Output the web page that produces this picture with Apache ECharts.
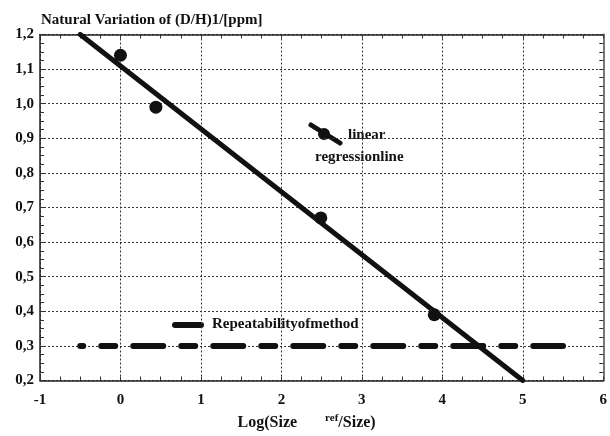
<!DOCTYPE html>
<html>
<head>
<meta charset="utf-8">
<script src="https://cdn.jsdelivr.net/npm/echarts@6/dist/echarts.min.js"></script>
<style>
html, body { margin: 0; padding: 0; background: #fff; }
#main { width: 610px; height: 436px; }
</style>
</head>
<body>
<div id="main"></div>
<script>
// measured points
const pointX = [0, 0.44, 2.49, 3.9];
const pointY = [1.14, 0.99, 0.67, 0.39];
// regression line ends
const regX = [-0.5, 5];
const regY = [1.2, 0.2];
// repeatability of method
const repX = [-0.5, 5.5];
const repY = [0.3, 0.3];

const fontFam = '"Liberation Serif", serif';

function pairs(xs, ys) {
    return xs.map((x, i) => [x, ys[i]]);
}

let myChart = echarts.init(document.getElementById('main'));

const gridLine = { show: true, lineStyle: { color: '#333', width: 1, type: [2, 2] } };
const frameLine = { show: true, onZero: false, lineStyle: { color: '#222', width: 1.5 } };
const minor = { show: true, splitNumber: 4, length: 4, lineStyle: { color: '#333', width: 1 } };
const majTick = { show: true, inside: true, length: 4, lineStyle: { color: '#333' } };

let option = {
    backgroundColor: '#fff',
    animation: false,
    textStyle: { fontFamily: fontFam },
    title: {
        text: 'Natural Variation of (D/H)1/[ppm]',
        left: 36,
        top: 8,
        textStyle: { fontFamily: fontFam, fontSize: 15, fontWeight: 'bold', color: '#111' }
    },
    grid: { left: 40, right: 4, top: 34.5, bottom: 51.5 },
    xAxis: [{
        type: 'value',
        min: -1,
        max: 6,
        interval: 1,
        axisLine: frameLine,
        axisTick: majTick,
        minorTick: Object.assign({}, minor),
        splitLine: gridLine,
        axisLabel: { fontFamily: fontFam, fontSize: 15, fontWeight: 'bold', color: '#111', margin: 12 },
        name: '{a|Log(Size}{gap|}{sup|ref}{a|/Size)}',
        nameLocation: 'middle',
        nameGap: 32,
        nameTextStyle: {
            padding: [0, 30, 0, 0],
            rich: {
                a: { fontFamily: fontFam, fontSize: 16, fontWeight: 'bold', color: '#111' },
                gap: { width: 28 },
                sup: { fontFamily: fontFam, fontSize: 11, fontWeight: 'bold', color: '#111', padding: [0, 0, 10, 0] }
            }
        }
    }, {
        type: 'value',
        position: 'top',
        min: -1,
        max: 6,
        interval: 1,
        axisLine: frameLine,
        axisTick: majTick,
        minorTick: Object.assign({}, minor),
        splitLine: { show: false },
        axisLabel: { show: false }
    }],
    yAxis: [{
        type: 'value',
        min: 0.2,
        max: 1.2,
        interval: 0.1,
        axisLine: frameLine,
        axisTick: majTick,
        minorTick: Object.assign({}, minor),
        splitLine: gridLine,
        axisLabel: {
            fontFamily: fontFam, fontSize: 15, fontWeight: 'bold', color: '#111', margin: 6,
            formatter: (v) => v.toFixed(1).replace('.', ',')
        }
    }, {
        type: 'value',
        position: 'right',
        min: 0.2,
        max: 1.2,
        interval: 0.1,
        axisLine: { show: true, onZero: false, lineStyle: { color: '#777', width: 2 } },
        axisTick: majTick,
        minorTick: Object.assign({}, minor),
        splitLine: { show: false },
        axisLabel: { show: false }
    }],
    graphic: [
        // legend: linear regression line
        { type: 'line', shape: { x1: 311, y1: 125, x2: 340, y2: 143 }, style: { stroke: '#111', lineWidth: 5, lineCap: 'round' } },
        { type: 'circle', shape: { cx: 324, cy: 134, r: 6 }, style: { fill: '#111' } },
        { type: 'text', left: 348, top: 128, style: { text: 'linear', font: 'bold 15px ' + fontFam, fill: '#111' } },
        { type: 'text', left: 315, top: 150, style: { text: 'regressionline', font: 'bold 15px ' + fontFam, fill: '#111' } },
        // legend: repeatability
        { type: 'line', shape: { x1: 175, y1: 325, x2: 201, y2: 325 }, style: { stroke: '#111', lineWidth: 6, lineCap: 'round' } },
        { type: 'text', left: 212, top: 317, style: { text: 'Repeatabilityofmethod', font: 'bold 15px ' + fontFam, fill: '#111' } }
    ],
    series: [{
        name: 'Repeatability of method',
        type: 'line',
        data: pairs(repX, repY),
        symbol: 'none',
        lineStyle: { color: '#111', width: 6, type: [14, 18, 30, 18], dashOffset: 59, cap: 'round' },
        z: 3
    }, {
        name: 'linear regression line',
        type: 'line',
        data: pairs(regX, regY),
        symbol: 'none',
        clip: true,
        lineStyle: { color: '#111', width: 5, cap: 'round' },
        z: 4
    }, {
        name: 'points',
        type: 'scatter',
        data: pairs(pointX, pointY),
        symbol: 'circle',
        symbolSize: 13,
        itemStyle: { color: '#111', opacity: 1 },
        z: 5
    }]
};
myChart.setOption(option);
</script>
</body>
</html>
